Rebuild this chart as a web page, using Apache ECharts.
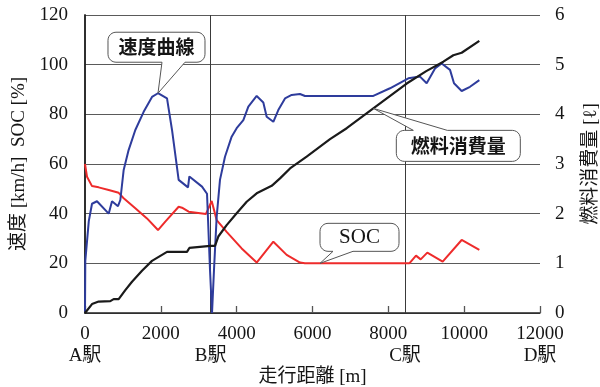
<!DOCTYPE html>
<html>
<head>
<meta charset="utf-8">
<script src="https://cdn.jsdelivr.net/npm/echarts@6/dist/echarts.min.js"></script>
<style>
  html, body { margin: 0; padding: 0; background: #fff; }
  #chart { width: 600px; height: 387px; }
</style>
</head>
<body>
<div id="chart"></div>
<script>
// Running data along the route: [distance m, value]
const speedData = [
  [0, 0.5], [8, 21], [100, 37], [185, 44], [316, 45], [625, 40], [712, 45], [870, 43],
  [932, 45.5], [1020, 57.6], [1150, 65.6], [1327, 73.7], [1547, 81], [1767, 87],
  [1925, 88.5], [2163, 86.4], [2295, 73.7], [2470, 53.6], [2717, 50.6], [2752, 55],
  [3086, 50.9], [3218, 48], [3297, 17.3], [3350, 0], [3402, 17.3], [3473, 38.8],
  [3560, 53.6], [3692, 62.9], [3868, 71], [4000, 74.4], [4176, 77.7], [4308, 83.1],
  [4528, 87.4], [4703, 84.8], [4791, 79], [4967, 77], [5098, 81.7], [5275, 86.4],
  [5451, 87.8], [5670, 88.2], [5802, 87.4], [7604, 87.4], [8044, 90.5], [8528, 94.5],
  [8835, 95.2], [9011, 92.5], [9231, 98.5], [9407, 100.5], [9627, 97.9], [9732, 92.5],
  [9934, 89.4], [10154, 91.1], [10400, 93.8]
];
const socData = [
  [0, 60], [53, 54.9], [185, 51.1], [360, 50.6], [625, 49.5], [888, 48.4], [1020, 46.2],
  [1327, 42.2], [1635, 38.1], [1925, 33.4], [2118, 36.8], [2470, 42.8], [2558, 42.4],
  [2734, 40.8], [3191, 39.9], [3341, 45.1], [3473, 37.4], [3736, 32.7], [4132, 26],
  [4528, 20.3], [4967, 28.7], [5319, 23.4], [5670, 20.3], [5800, 20], [8554, 20],
  [8730, 23.1], [8853, 21.6], [9028, 24.3], [9433, 20.7], [9934, 29.4], [10400, 25.4]
];
const fuelData = [
  [0, 0], [185, 0.18], [360, 0.23], [668, 0.24], [756, 0.28], [888, 0.28], [1063, 0.46],
  [1240, 0.63], [1503, 0.85], [1767, 1.05], [1943, 1.13], [2163, 1.23], [2690, 1.23],
  [2752, 1.31], [3306, 1.35], [3429, 1.35], [3516, 1.54], [3736, 1.77], [4000, 2.01],
  [4264, 2.24], [4528, 2.41], [4924, 2.56], [5143, 2.71], [5407, 2.91], [5846, 3.15],
  [6198, 3.35], [6462, 3.5], [6902, 3.72], [7604, 4.12], [8484, 4.62], [9000, 4.87],
  [9451, 5.06], [9714, 5.19], [9934, 5.24], [10400, 5.48]
];

// Stations along the route
const stationNames = ['A駅', 'B駅', 'C駅', 'D駅'];
const stationDist = [0, 3315, 8440, 12000];

// Callout labels
const speedLabel = '速度曲線';
const socLabel = 'SOC';
const fuelLabel = '燃料消費量';

const SERIF = '"Liberation Serif", "Noto Sans CJK JP", serif';
const CJK = '"Noto Sans CJK JP", sans-serif';
const INK = '#151515';

const chart = echarts.init(document.getElementById('chart'), null, { renderer: 'canvas' });

const textStyle = { fontFamily: SERIF, fontSize: 19, color: INK };

// Axis ranges
const distMin = 0, distMax = 12000, distStep = 2000;
const leftMin = 0, leftMax = 120, leftStep = 20;

const option = {
  animation: false,
  grid: { left: 85, right: 60, top: 15, bottom: 74, outerBoundsMode: 'none', containLabel: false },
  xAxis: [
    {
      type: 'value', min: distMin, max: distMax, interval: distStep,
      axisLine: { lineStyle: { color: '#222', width: 1.5 } },
      axisTick: { inside: true, length: 7, lineStyle: { color: '#555', width: 1.3 } },
      axisLabel: Object.assign({ margin: 12, formatter: v => String(v) }, textStyle),
      splitLine: { show: false },
      name: '走行距離 [m]', nameLocation: 'middle', nameGap: 55,
      nameTextStyle: textStyle
    },
    {
      // second label row: station names under their positions
      type: 'value', min: distMin, max: distMax, position: 'bottom', offset: 22,
      axisLine: { show: false }, axisTick: { show: false }, splitLine: { show: false },
      axisLabel: Object.assign({
        margin: 12,
        customValues: stationDist,
        formatter: v => stationNames[stationDist.indexOf(v)] || ''
      }, textStyle)
    }
  ],
  yAxis: [
    {
      type: 'value', min: leftMin, max: leftMax, interval: leftStep, position: 'left',
      axisLine: { show: true, lineStyle: { color: '#222', width: 1.5 } },
      axisTick: { show: false },
      splitLine: { show: true, lineStyle: { color: '#5a5a5a', width: 1.2, type: 'solid' } },
      axisLabel: Object.assign({ margin: 17 }, textStyle),
      name: '速度 [km/h]  SOC [%]', nameLocation: 'middle', nameGap: 55, nameRotate: 90,
      nameTextStyle: textStyle
    },
    {
      type: 'value', min: 0, max: 6, interval: 1, position: 'right',
      axisLine: { show: true, lineStyle: { color: '#222', width: 1.5 } },
      axisTick: { show: false },
      splitLine: { show: false },
      axisLabel: Object.assign({ margin: 15 }, textStyle),
      name: '燃料消費量 [ℓ]', nameLocation: 'middle', nameGap: 42, nameRotate: 90,
      nameTextStyle: textStyle
    }
  ],
  series: [
    {
      name: 'SOC', type: 'line', data: socData, xAxisIndex: 0, yAxisIndex: 0,
      symbol: 'none', lineStyle: { color: '#ee2b2b', width: 2 }, itemStyle: { color: '#ee2b2b' },
      z: 3
    },
    {
      name: '速度', type: 'line', data: speedData, xAxisIndex: 0, yAxisIndex: 0,
      symbol: 'none', lineStyle: { color: '#2e3c9c', width: 2 }, itemStyle: { color: '#2e3c9c' },
      z: 4,
      markLine: {
        // vertical rules at the intermediate stations
        silent: true, symbol: ['none', 'none'], label: { show: false },
        lineStyle: { color: '#3a3a3a', width: 1, type: 'solid' },
        emphasis: { disabled: true },
        z: 1,
        data: stationDist.slice(1, 3).map(d => ({ xAxis: d }))
      }
    },
    {
      name: '燃料消費量', type: 'line', data: fuelData, xAxisIndex: 0, yAxisIndex: 1,
      symbol: 'none', lineStyle: { color: '#1a1a1a', width: 2.2 }, itemStyle: { color: '#1a1a1a' },
      z: 5
    }
  ]
};

chart.setOption(option);

// Speech-bubble callouts: box offsets are relative to the anchored data point
const callouts = [
  { text: speedLabel, anchor: [1925, 88.5], yAxisIndex: 0, box: [-50, -61, 97, 30], base: [4, 27], side: 'bottom', font: CJK, size: 19, weight: 'bold' },
  { text: socLabel, anchor: [6198, 20], yAxisIndex: 0, box: [0, -40, 79, 28], base: [13, 33], side: 'bottom', font: SERIF, size: 21, weight: 'normal' },
  { text: fuelLabel, anchor: [7604, 4.12], yAxisIndex: 1, box: [23, 22, 124, 31], base: [40, 74], side: 'top', font: CJK, size: 19, weight: 'bold' }
];

function arc(pts, cx, cy, r, a0, a1) {
  const n = 6;
  for (let i = 0; i <= n; i++) {
    const a = a0 + (a1 - a0) * i / n;
    pts.push([cx + r * Math.cos(a), cy + r * Math.sin(a)]);
  }
}

function bubblePoints(tx, ty, l, t, w, h, b1, b2, side) {
  const r = 8, R = l + w, B = t + h, pts = [];
  arc(pts, l + r, t + r, r, Math.PI, Math.PI * 1.5);
  if (side === 'top') { pts.push([b1, t], [tx, ty], [b2, t]); }
  arc(pts, R - r, t + r, r, -Math.PI / 2, 0);
  arc(pts, R - r, B - r, r, 0, Math.PI / 2);
  if (side === 'bottom') { pts.push([b2, B], [tx, ty], [b1, B]); }
  arc(pts, l + r, B - r, r, Math.PI / 2, Math.PI);
  return pts;
}

const elements = [];
callouts.forEach((c, i) => {
  const p = chart.convertToPixel({ xAxisIndex: 0, yAxisIndex: c.yAxisIndex }, c.anchor);
  const l = p[0] + c.box[0], t = p[1] + c.box[1], w = c.box[2], h = c.box[3];
  const b1 = p[0] + c.base[0], b2 = p[0] + c.base[1];
  elements.push({
    type: 'polygon', id: 'bubble' + i, z: 100, silent: true,
    shape: { points: bubblePoints(p[0], p[1], l, t, w, h, b1, b2, c.side) },
    style: { fill: '#fff', stroke: '#555', lineWidth: 1 }
  });
  elements.push({
    type: 'text', id: 'bubbleText' + i, z: 101, silent: true,
    x: l + w / 2, y: t + h / 2,
    style: {
      text: c.text, fill: INK, font: c.weight + ' ' + c.size + 'px ' + c.font,
      textAlign: 'center', textVerticalAlign: 'middle', align: 'center', verticalAlign: 'middle'
    }
  });
});
chart.setOption({ graphic: { elements } });
</script>
</body>
</html>
